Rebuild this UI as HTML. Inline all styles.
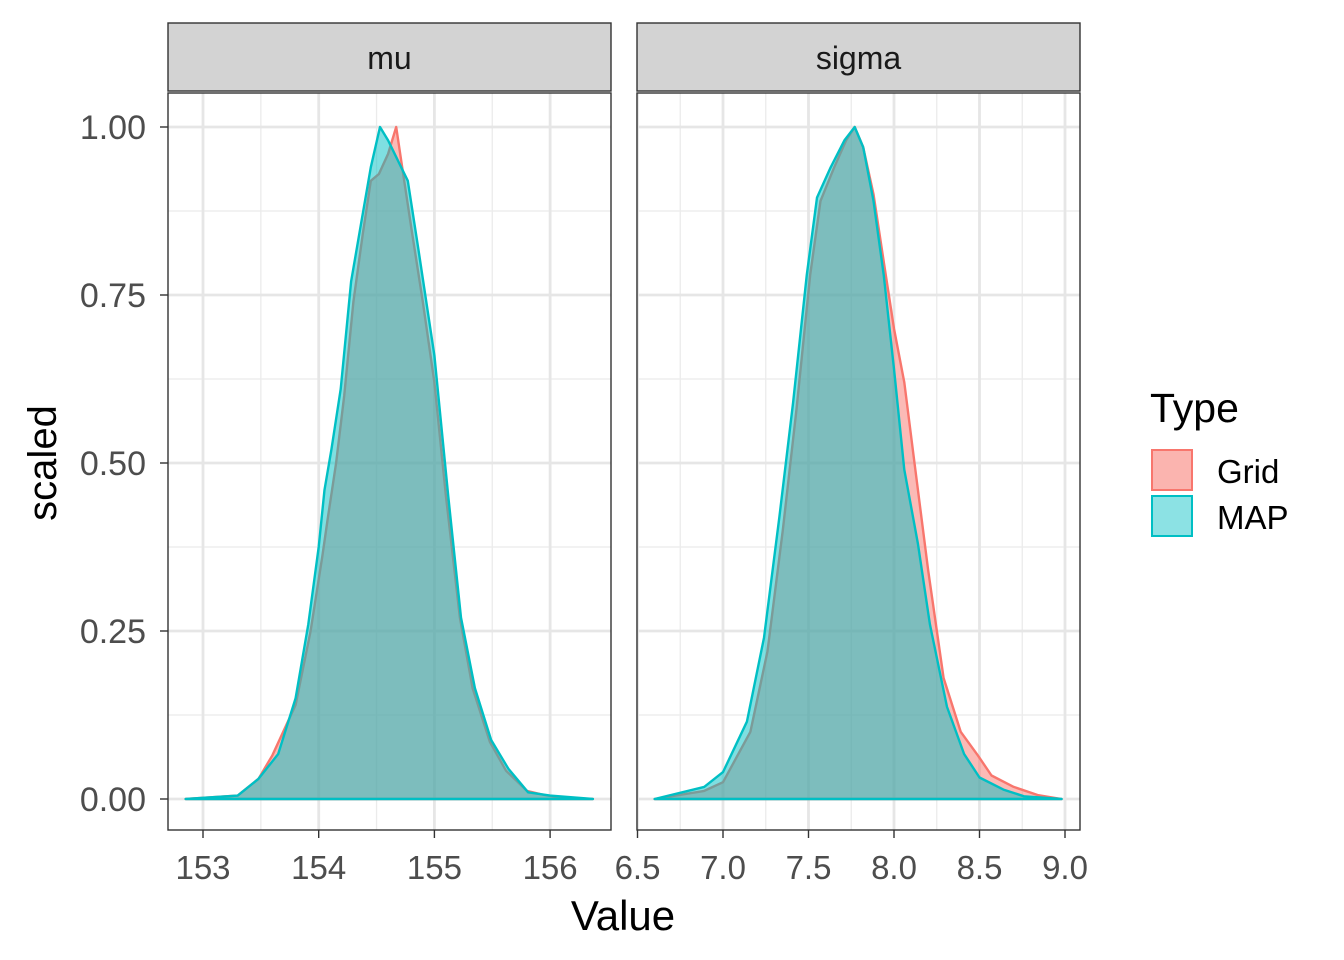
<!DOCTYPE html>
<html><head><meta charset="utf-8"><style>
html,body{margin:0;padding:0;background:#fff}
svg{display:block;font-family:"Liberation Sans",Arial,sans-serif}
</style></head><body>
<svg id="chart" width="1344" height="960" viewBox="0 0 1344 960" xmlns="http://www.w3.org/2000/svg">
<rect width="1344" height="960" fill="#fff"/>
<g id="panels"></g>
<text x="56" y="463" font-size="40" fill="#000" text-anchor="middle" transform="rotate(-90 56 463)">scaled</text>
<text x="623" y="930" font-size="42" fill="#000" text-anchor="middle">Value</text>
<g>
<text x="1150" y="422" font-size="41" fill="#000">Type</text>
<g><rect x="1152" y="450" width="40" height="40" fill="#F8766D" fill-opacity="0.55" stroke="#F8766D" stroke-width="2"/><text x="1217" y="483" font-size="33" fill="#000">Grid</text></g>
<g><rect x="1152" y="496" width="40" height="40" fill="#00BFC4" fill-opacity="0.45" stroke="#00BFC4" stroke-width="2"/><text x="1217" y="529" font-size="33" fill="#000">MAP</text></g>
</g>
</svg>
<script>
const muX_grid=[152.85,153.3,153.48,153.6,153.8,153.93,154.03,154.08,154.15,154.22,154.3,154.38,154.45,154.52,154.6,154.67,154.73,154.8,154.9,155.0,155.1,155.22,155.33,155.48,155.62,155.8,155.95,156.1,156.37];
const muY_grid=[0,0.005,0.03,0.065,0.14,0.25,0.36,0.42,0.5,0.6,0.74,0.84,0.92,0.93,0.96,1.0,0.93,0.85,0.74,0.62,0.45,0.27,0.165,0.085,0.042,0.012,0.006,0.002,0];
const muX_map=[152.85,153.3,153.48,153.65,153.8,153.91,154.0,154.05,154.11,154.19,154.28,154.37,154.45,154.53,154.6,154.77,154.86,155.0,155.12,155.23,155.35,155.49,155.64,155.81,156.0,156.37];
const muY_map=[0,0.005,0.03,0.067,0.15,0.26,0.375,0.46,0.52,0.61,0.77,0.86,0.94,1.0,0.98,0.92,0.82,0.66,0.45,0.27,0.165,0.088,0.045,0.01,0.005,0];
const sgX_grid=[6.6,6.89,7.0,7.16,7.26,7.35,7.43,7.51,7.57,7.65,7.72,7.77,7.82,7.88,7.94,8.0,8.06,8.12,8.2,8.29,8.39,8.49,8.57,8.7,8.84,8.98];
const sgY_grid=[0,0.012,0.025,0.1,0.22,0.4,0.58,0.78,0.89,0.94,0.98,1.0,0.97,0.9,0.8,0.7,0.62,0.5,0.34,0.18,0.1,0.065,0.035,0.018,0.006,0];
const sgX_map=[6.6,6.89,7.0,7.14,7.24,7.33,7.41,7.49,7.55,7.63,7.71,7.77,7.82,7.88,7.94,8.0,8.06,8.14,8.21,8.31,8.41,8.5,8.64,8.76,8.98];
const sgY_map=[0,0.018,0.04,0.115,0.24,0.42,0.59,0.78,0.895,0.94,0.98,1.0,0.97,0.89,0.78,0.64,0.49,0.38,0.26,0.137,0.067,0.032,0.014,0.004,0];
const yTicks=[0,0.25,0.5,0.75,1.0];
const yTickLabels=["0.00","0.25","0.50","0.75","1.00"];
const muTicks=[153,154,155,156];
const sgTicks=[6.5,7.0,7.5,8.0,8.5,9.0];
const sgTickLabels=["6.5","7.0","7.5","8.0","8.5","9.0"];

const NS="http://www.w3.org/2000/svg";
const root=document.getElementById('panels');
function mk(tag,attrs,parent){const e=document.createElementNS(NS,tag);for(const k in attrs)e.setAttribute(k,attrs[k]);(parent||root).appendChild(e);return e;}
const pTop=93,pBot=830;
const yS=v=>799-v*672;

function panel(name,x0,x1,xs,ticks,labels,minor,series,strip,showY){
  const g=mk('g',{});
  
  
  mk('rect',{x:x0,y:pTop,width:x1-x0,height:pBot-pTop,fill:'#fff'},g);
  minor.forEach(v=>mk('line',{x1:xs(v),x2:xs(v),y1:pTop,y2:pBot,stroke:'#EBEBEB','stroke-width':1.3},g));
  [0.125,0.375,0.625,0.875].forEach(v=>mk('line',{x1:x0,x2:x1,y1:yS(v),y2:yS(v),stroke:'#EBEBEB','stroke-width':1.3},g));
  ticks.forEach(v=>mk('line',{x1:xs(v),x2:xs(v),y1:pTop,y2:pBot,stroke:'#E6E6E6','stroke-width':2.8},g));
  yTicks.forEach(v=>mk('line',{x1:x0,x2:x1,y1:yS(v),y2:yS(v),stroke:'#E6E6E6','stroke-width':2.8},g));
  series.forEach(s=>{
    let d='M'+xs(s.x[0])+','+yS(0);
    s.x.forEach((v,i)=>{d+=' L'+xs(v).toFixed(1)+','+yS(s.y[i]).toFixed(1);});
    d+=' L'+xs(s.x[s.x.length-1])+','+yS(0)+' Z';
    const p=mk('path',{d:d,fill:s.c,'fill-opacity':0.5,stroke:s.c,'stroke-width':2.4,'stroke-linejoin':'round'},g);
    
    
  });
  mk('rect',{x:x0,y:pTop,width:x1-x0,height:pBot-pTop,fill:'none',stroke:'#333','stroke-width':1.4},g);
  const st=mk('rect',{x:x0,y:23,width:x1-x0,height:68,fill:'#D3D3D3',stroke:'#333','stroke-width':1.4},g);
  
  
  const stt=mk('text',{x:(x0+x1)/2,y:69,'font-size':32,fill:'#1A1A1A','text-anchor':'middle'},g);
  stt.textContent=strip;
  
  
  ticks.forEach((v,i)=>{
    mk('line',{x1:xs(v),x2:xs(v),y1:pBot,y2:pBot+8,stroke:'#333','stroke-width':1.4},g);
    const t=mk('text',{x:xs(v),y:879,'font-size':33,fill:'#4D4D4D','text-anchor':'middle'},g);
    t.textContent=labels[i];
    
    
  });
  if(showY){
    yTicks.forEach((v,i)=>{
      mk('line',{x1:x0-8,x2:x0,y1:yS(v),y2:yS(v),stroke:'#333','stroke-width':1.4},g);
      const t=mk('text',{x:x0-22,y:yS(v)+12,'font-size':34,fill:'#4D4D4D','text-anchor':'end'},g);
      t.textContent=yTickLabels[i];
      
      
    });
  }
}
const muS=v=>203+(v-153)*115.7;
const sgS=v=>723+(v-7)*171;
panel('mu',168,611,muS,muTicks,muTicks.map(String),[153.5,154.5,155.5],
  [{x:muX_grid,y:muY_grid,c:'#F8766D',n:'grid'},{x:muX_map,y:muY_map,c:'#00BFC4',n:'map'}],'mu',true);
panel('sigma',637,1080,sgS,sgTicks,sgTickLabels,[6.75,7.25,7.75,8.25,8.75],
  [{x:sgX_grid,y:sgY_grid,c:'#F8766D',n:'grid'},{x:sgX_map,y:sgY_map,c:'#00BFC4',n:'map'}],'sigma',false);
</script>
</body></html>
